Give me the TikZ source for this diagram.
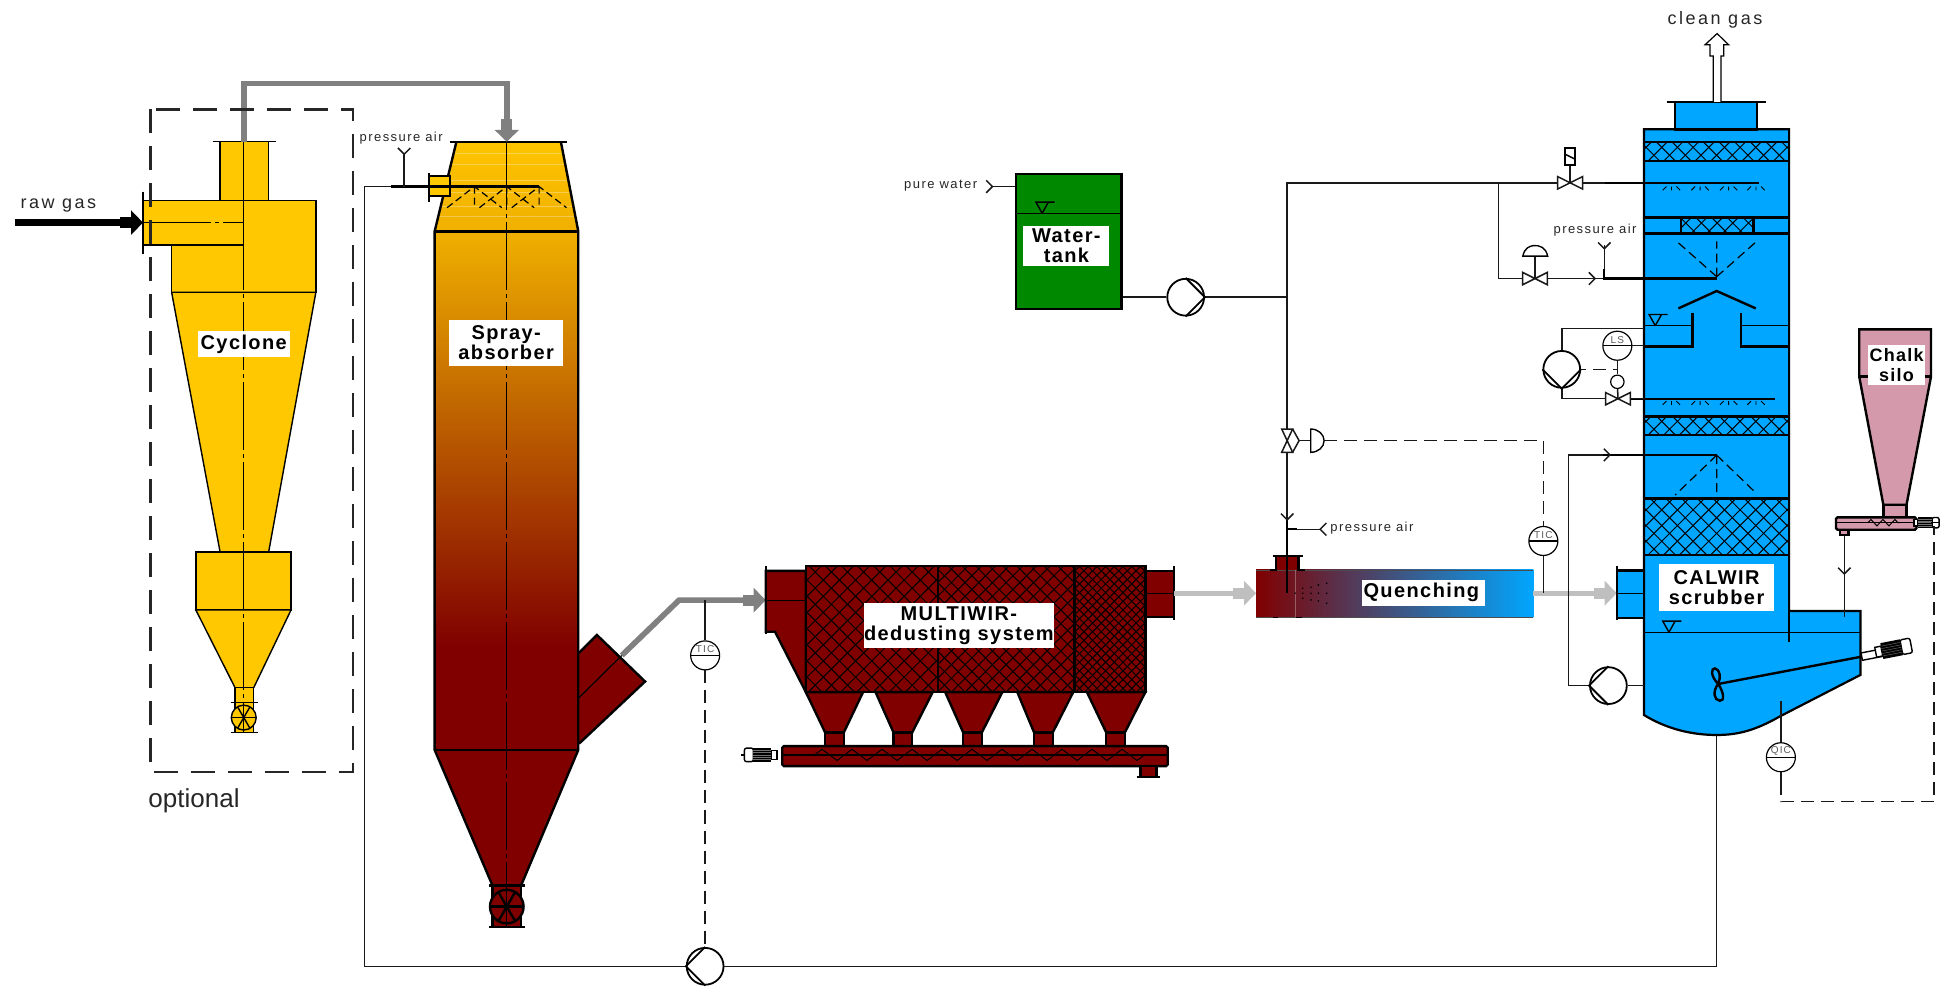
\documentclass[tikz,border=0pt]{standalone}
\usepackage{fontspec}
\setmainfont{Liberation Sans}
\newfontfamily\lblfont[LetterSpace=7]{Liberation Sans}
\newfontfamily\notefont[LetterSpace=11]{Liberation Sans}
\newfontfamily\gasfont[LetterSpace=14]{Liberation Sans}
\usetikzlibrary{arrows.meta,decorations.pathmorphing}
\definecolor{cycyellow}{HTML}{FFC800}
\definecolor{dkred}{HTML}{800000}
\definecolor{scrubblue}{HTML}{00A6FF}
\definecolor{tankgreen}{HTML}{008800}
\definecolor{silopink}{HTML}{D49AAC}
\tikzset{
	pipe/.style={line width=.75pt,black!90},
	wall/.style={line width=1.2pt,black},
	thinwall/.style={line width=.7pt,black},
	hatchline/.style={line width=.5pt,black},
	centerline/.style={line width=.6pt,black,dash pattern=on 34pt off 2pt on 2pt off 2pt},
	ctrl/.style={line width=.7pt,black!90,dash pattern=on 6.5pt off 3.5pt},
	flowtip/.style={-{Rectangle[length=5.5pt,width=5.6pt]Triangle[length=6pt,width=12pt]}},
	gasflow/.style={flowtip,line width=2.8pt,black!50},
	coolflow/.style={flowtip,line width=2.4pt,black!25},
	lbl/.style={fill=white,inner sep=0pt,align=center,font=\lblfont\bfseries\fontsize{10}{9.8}\selectfont},
	pumpnode/.style={circle,draw,line width=.9pt,fill=white,minimum size=18.4pt,inner sep=0pt},
	instr/.style={circle,draw,line width=.6pt,fill=white,minimum size=14.5pt,inner sep=0pt,
		path picture={\draw[line width=.6pt] (path picture bounding box.west) -- (path picture bounding box.east);}},
	instrtxt/.style={font=\notefont\fontsize{5}{5}\selectfont,black!65,inner sep=0pt,yshift=3pt},
	note/.style={font=\notefont\fontsize{6.5}{7}\selectfont,black!85,inner sep=0pt},
	gastxt/.style={font=\gasfont\fontsize{9}{10}\selectfont,black!85,inner sep=0pt},
}
\newcommand{\hatchbox}[5]{%
	\begin{scope}
		\clip (#1,#2) rectangle (#3,#4);
		\pgfmathsetmacro{\hatchend}{#3-#1+#4-#2}
		\foreach \k in {0,#5,...,\hatchend}{
			\draw[hatchline] (#1-#4+#2+\k,#2) -- (#1+\k,#4);
			\draw[hatchline] (#3+#4-#2-\k,#2) -- (#3-\k,#4);
		}
	\end{scope}}
\newcommand{\chev}[3]{\draw[pipe,rotate around={#3:(#1,#2)}] (#1-5,#2-5) -- (#1,#2) -- (#1-5,#2+5);}
\newcommand{\valveh}[2]{\draw[pipe,fill=white] (#1-10,#2-5) -- (#1+10,#2+5) -- (#1+10,#2-5) -- (#1-10,#2+5) -- cycle;}
\newcommand{\levelmark}[2]{\draw[thinwall] (#1,#2) -- (#1-5,#2-9) -- (#1+10,#2-9) (#1,#2) -- (#1+5,#2-9);}
\newcommand{\wheel}[4]{%
	\draw[#4] (#1,#2) circle (#3);
	\foreach \a in {0,60,120} \draw[#4] (#1,#2) ++(\a:#3) -- ++(\a+180:2*#3);}
\newcommand{\motorsym}[4]{%
	\begin{scope}[shift={(#1,#2)},rotate=#3,scale=#4]
		\draw[thinwall,fill=white,rounded corners=1pt] (8,-6) rectangle (16,6);
		\draw[thinwall,fill=white] (-13,-4) rectangle (-8,4);
		\fill (-8,-6.5) rectangle (8,6.5);
		\foreach \r in {-4,-2,0,2,4} \draw[black!55,line width=.2pt] (-8,\r) -- (8,\r);
	\end{scope}}
\newcommand{\tinyspray}[2]{\draw[line width=.45pt] (#1-7,#2+3) -- (#1-4,#2) (#1,#2) -- (#1,#2+3) (#1+4,#2) -- (#1+7,#2+3);}
\begin{document}
\begin{tikzpicture}[x=0.6218pt,y=-0.6218pt]
	\useasboundingbox (0,0) rectangle (1568,793.6);
	% cyclone
	\draw[thinwall,fill=cycyellow] (177,114) rectangle (216,161);
	\draw[thinwall,fill=cycyellow] (138,161) rectangle (254,235);
	\draw[thinwall,fill=cycyellow] (115,161) rectangle (196,197);
	\draw[thinwall,fill=cycyellow] (138,235) -- (254,235) -- (216,444) -- (177,444) -- cycle;
	\draw[thinwall,fill=cycyellow] (157.5,444) rectangle (234,490.5);
	\draw[thinwall,fill=cycyellow] (157.5,490.5) -- (234,490.5) -- (204,553) -- (189,553) -- cycle;
	\draw[thinwall,fill=cycyellow] (189,553) rectangle (204,589);
	\draw[thinwall] (171,114) -- (222,114) (115,154) -- (115,204) (185.5,565) -- (207.5,565) (185.5,589) -- (207.5,589);
	\wheel{196}{577}{10}{thinwall,fill=cycyellow}
	\draw[centerline] (196,114) -- (196,589);
	\draw[centerline] (115,179) -- (196,179);
	% spray absorber
	\shade[top color=cycyellow!95!orange,bottom color=cycyellow!88!dkred] (367,114) -- (451,114) -- (465,186) -- (349.5,186) -- cycle;
	\begin{scope}
		\clip (367,114) -- (451,114) -- (465,186) -- (349.5,186) -- cycle;
		\foreach \y in {123,132,145,155,166,174}
			\draw[white,opacity=.3,line width=.4pt] (345,\y) -- (470,\y);
	\end{scope}
	\shade[top color=cycyellow!88!dkred,bottom color=dkred] (349.5,186) rectangle (465,520);
	\fill[dkred] (349.5,519) rectangle (465,603);
	\fill[dkred] (349.5,603) -- (465,603) -- (419,712) -- (396,712) -- cycle;
	\draw[wall,fill=dkred] (396,712) rectangle (419,745.6);
	\draw[wall,fill=dkred] (465.6,525) -- (480,510.6) -- (518.7,548) -- (465.6,598);
	\draw[wall] (367,114) -- (349.5,186) -- (349.5,603) -- (396,712) (451,114) -- (465,186) -- (465,603) -- (419,712);
	\draw[wall] (349.5,186) -- (465,186) (349.5,603) -- (465,603) (362,114) -- (456,114) (393,712) -- (422,712) (393,745.6) -- (422,745.6);
	\draw[wall,fill=cycyellow] (345,141.5) rectangle (362,157.6);
	\draw[wall] (345,139) -- (345,162.5);
	\wheel{407.5}{729}{13.5}{wall,fill=dkred}
	\draw[centerline] (407.5,114) -- (407.5,745);
	\draw[centerline] (465.6,561) -- (500,527);
	\coordinate (sprayBar) at (433.5,150);
	\draw[wall] (314.5,150) -- (sprayBar);
	\foreach \x in {381.5,407.5,433.5}
		\draw[line width=.6pt,dash pattern=on 3.5pt off 2pt] (\x-22,167) -- (\x,150) -- (\x+22,167) (\x,150) -- (\x,167);
	% raw gas, gas ducts
	\coordinate (cycIn) at (115,179);
	\coordinate (cycOut) at (196,114);
	\coordinate (sprayIn) at (407.5,114);
	\coordinate (sprayOut) at (500,527);
	\coordinate (multiIn) at (615.7,482.6);
	\draw[flowtip,line width=3.4pt,black] (12,179) -- (cycIn);
	\draw[gasflow] (cycOut) -- (196,67) -- (407.5,67) -- (sprayIn);
	\draw[gasflow] (sprayOut) -- (546,482.6) -- (multiIn);
	% optional frame
	\draw[line width=1.1pt,black!85,dash pattern=on 12pt off 6.5pt] (121,88) rectangle (284,621);
	% multiwir
	\draw[wall,fill=dkred] (615.7,459) -- (648,459) -- (648,556.5) -- (623.2,508) -- (615.7,508) -- cycle;
	\draw[wall,fill=dkred] (921,459) rectangle (944,496);
	\draw[wall] (615.7,455) -- (615.7,510) (944,455) -- (944,498.7);
	\draw[centerline] (616,482.6) -- (648,482.6);
	\draw[thinwall] (921,477) -- (944,477);
	\fill[dkred] (648,455) rectangle (921,556.5);
	\hatchbox{648}{455}{754}{556.5}{13}
	\hatchbox{754}{455}{864}{556.5}{11}
	\hatchbox{864}{455}{921}{556.5}{7}
	\draw[wall] (648,455) rectangle (921,556.5) (754,455) -- (754,556.5) (864,455) -- (864,556.5);
	\foreach \a/\b/\c in {648/694/671,704/750/726,760/806/782,818/863/839,874/921/897} {
		\draw[wall,fill=dkred] (\a,556.5) -- (\b,556.5) -- (\c+7.5,589) -- (\c-7.5,589) -- cycle;
		\draw[wall,fill=dkred] (\c-7.5,589) rectangle (\c+7.5,600);
	}
	\draw[wall,fill=dkred,rounded corners=.8pt] (629,600) rectangle (939,616);
	\draw[thinwall] (629,607) -- (939,607);
	\draw[hatchline,decorate,decoration={zigzag,segment length=15pt,amplitude=2.8pt}] (655,607) -- (925,607);
	\draw[wall,fill=dkred] (917,616) rectangle (930,625);
	\draw[wall] (914,625) -- (933,625);
	\draw[thinwall] (596,607) -- (604,607);
	\motorsym{613}{607}{180}{.9}
	% water tank
	\node[draw,line width=1.3pt,fill=tankgreen,minimum width=52.6pt,minimum height=67.5pt,inner sep=0pt] (tank) at (859.3,194.3) {};
	\draw[thinwall] (tank.west |- 0,171.5) -- (tank.east |- 0,171.5);
	\levelmark{838}{171.5}
	\node[pumpnode] (pumpW) at (953.4,239) {};
	\coordinate (jctW) at (1035,239);
	\coordinate (jctT) at (1035,147);
	\coordinate (jctB) at (1205,147);
	\coordinate (waterEnd) at (798,150);
	\draw[pipe] (waterEnd) -- (waterEnd -| tank.west);
	\chev{798}{150}{0}
	\draw[pipe] (pumpW -| tank.east) -- (pumpW) -- (jctW);
	\draw[line width=.9pt] (pumpW.north) -- (pumpW.east) -- (pumpW.south);
	% quench
	\shade[left color=dkred,right color=scrubblue] (1010,458.3) rectangle (1233,496.4);
	\draw[line width=.4pt,black!70] (1010,458.3) -- (1233,458.3) (1010,496.4) -- (1233,496.4);
	\draw[line width=.3pt,white,opacity=.3] (1041.4,458.3) -- (1041.4,496.4);
	\draw[line width=.6pt] (1024,496.4) -- (1028,496.4) (1042,496.4) -- (1047,496.4);
	\fill[dkred] (1025.8,447) rectangle (1044,458.3);
	\draw[wall] (1021,458.3) -- (1025.8,458.3) -- (1025.8,447) (1049,458.3) -- (1044,458.3) -- (1044,447) (1023.4,447) -- (1047.5,447);
	\coordinate (quenchIn) at (1010,477);
	\coordinate (quenchOut) at (1233,477);
	\coordinate (calwirIn) at (1300,477);
	\coordinate (multiOut) at (944,477);
	\draw[coolflow] (multiOut) -- (quenchIn);
	\draw[coolflow] (quenchOut) -- (calwirIn);
	\draw[pipe] (jctT) -- (1035,418);
	\draw[wall] (1035,418) -- (1035,477);
	\draw[wall] (1035,425.6) -- (1043,425.6);
	\draw[pipe] (1043,425.6) -- (1061.5,425.6);
	\chev{1035}{418}{270}
	\chev{1061.5}{425.6}{180}
	\foreach \x/\y in {1041.4/477,1047.5/473,1047.5/477,1047.5/481,1054.2/472.2,1054.2/477,1054.2/482.4,1060.1/470.4,1060.1/477,1060.1/483.2,1066.8/469,1066.8/477,1066.8/485}
		\fill (\x,\y) circle (.45pt);
	\draw[pipe,fill=white] (1030.6,345) -- (1039.4,345) -- (1030.6,363.7) -- (1039.4,363.7) -- cycle;
	\draw[pipe] (1039.4,345) -- (1044.6,354.3) -- (1039.4,363.7);
	\draw[pipe] (1044.6,354.3) -- (1054,354.3);
	\draw[thinwall,fill=white] (1054,345) arc (-90:90:10.7 and 9.35) -- cycle;
	\node[instr,label={[instrtxt]center:TIC}] (ticQ) at (1241,435) {};
	\draw[pipe] (ticQ) -- (ticQ |- quenchOut);
	\draw[ctrl] (1064.7,354.3) -- (1241,354.3) -- (ticQ);
	% scrubber
	\draw[line width=1.1pt,fill=scrubblue] (1322,104) -- (1438.6,104) -- (1438.6,491.3) -- (1496,491.3) -- (1496,542.7) -- (1431.3,576)
		.. controls (1412,587) and (1398,591) .. (1380.4,591) .. controls (1360,591) and (1340,586) .. (1322,575) -- cycle;
	\draw[wall,fill=scrubblue] (1347,82) rectangle (1413,104);
	\draw[wall] (1340.6,82) -- (1420,82);
	\draw[line width=.6pt,fill=white] (1377.6,82) -- (1377.6,45) -- (1375,45) -- (1375,36) -- (1371,36) -- (1380.7,27) -- (1390,36) -- (1386,36) -- (1386,45) -- (1383.8,45) -- (1383.8,82);
	\hatchbox{1322}{114}{1438.6}{129.5}{12.6}
	\hatchbox{1351.5}{174.8}{1410}{187.9}{12.6}
	\hatchbox{1322}{335}{1438.6}{349.8}{12.6}
	\hatchbox{1322}{400.7}{1438.6}{446.2}{12.6}
	\foreach \y in {114,129.5,174.8,187.9,335,349.8,400.7,446.2}
		\draw[wall] (1322,\y) -- (1438.6,\y);
	\draw[wall] (1351.5,174.8) -- (1351.5,187.9) (1410,174.8) -- (1410,187.9);
	\draw[wall] (1438.6,491) -- (1438.6,516);
	\draw[thinwall] (1322,508.4) -- (1496,508.4);
	\levelmark{1342}{508.4}
	\levelmark{1331}{261.9}
	\draw[wall] (1349.6,248) -- (1380.4,234) -- (1411.8,248);
	\draw[wall] (1323,278.7) -- (1360.8,278.7) -- (1360.8,252) (1399.7,252) -- (1399.7,278.7) -- (1438,278.7);
	\draw[thinwall] (1323,261.9) -- (1360.8,261.9) (1399.7,261.9) -- (1438,261.9);
	\draw[line width=.6pt,dash pattern=on 4.5pt off 2.5pt] (1380.4,222.5) -- (1347,193) (1380.4,222.5) -- (1380.4,194) (1380.4,222.5) -- (1412.6,194);
	\draw[line width=.6pt,dash pattern=on 4.5pt off 2.5pt] (1380.4,366) -- (1347,398) (1380.4,366) -- (1380.4,396) (1380.4,366) -- (1412.6,397);
	\draw[wall] (1290.6,147) -- (1414,147);
	\draw[wall] (1289,224) -- (1380.4,224);
	\draw[wall] (1289,365.8) -- (1380.4,365.8);
	\draw[wall] (1311,320.6) -- (1427,320.6);
	\foreach \x in {1344,1367,1390,1412} {
		\tinyspray{\x}{150}
		\tinyspray{\x}{322.5}
	}
	% lines at the scrubber
	\coordinate (valveT) at (1262.5,147);
	\coordinate (valveB) at (1234.3,224);
	\coordinate (valveS) at (1301,320.6);
	\coordinate (scrubOut) at (1380.4,591);
	\node[pumpnode] (pumpS) at (1255.8,297) {};
	\node[pumpnode] (pumpC) at (1293.3,551.3) {};
	\node[pumpnode] (pumpR) at (567,777) {};
	\node[circle,draw,line width=.6pt,fill=white,minimum size=6.7pt,inner sep=0pt] (posS) at (1300.5,307) {};
	\draw[pipe] (jctW) -- (jctT) -- (valveT) -- (1290.6,147);
	\draw[pipe] (jctB) -- (1205,224) -- (valveB) -- (1289,224);
	\draw[pipe] (1290,224) -- (1290,197);
	\draw[wall] (1290,224) -- (1290,216);
	\chev{1290}{200}{270}
	\chev{1282.6}{224}{0}
	\draw[pipe] (valveT) -- (1262.5,132.7);
	\draw[thinwall,fill=white] (1258.5,119) rectangle (1266.5,132.7);
	\draw[thinwall] (1258.5,124) -- (1266.5,128);
	\valveh{1262.5}{147}
	\draw[pipe] (valveB) -- (1234.3,206);
	\draw[thinwall,fill=white] (1224.5,206) .. controls (1226,199) and (1230,198) .. (1233,197.5) .. controls (1238,197) and (1243,199) .. (1244.5,206) -- cycle;
	\valveh{1234.3}{224}
	\draw[pipe] (pumpS.north) |- (1322,264);
	\draw[pipe] (pumpS.south) |- (valveS) -- (1322,320.6);
	\draw[line width=.9pt] (pumpS.west) -- (pumpS.south) -- (pumpS.east);
	\node[instr,label={[instrtxt]center:LS}] (lsS) at (1300.5,278) {};
	\draw[pipe] (lsS.east) -- (1322,278);
	\draw[wall] (1322,278) -- (1329,278);
	\draw[ctrl] (lsS.south) -- (1300.5,297) -- (pumpS.east);
	\draw[pipe] (1300.5,297) -- (posS);
	\draw[pipe] (posS) -- (valveS);
	\valveh{1301}{320.6}
	\draw[pipe] (1322,551.3) -- (pumpC) -- (1261.1,551.3) -- (1261.1,365.8) -- (1289,365.8);
	\chev{1294.6}{365.8}{0}
	\draw[line width=.9pt] (pumpC.north) -- (pumpC.west) -- (pumpC.south);
	\draw[pipe] (scrubOut) -- (scrubOut |- pumpR) -- (pumpR) -- (293,777) -- (293,150) -- (314.5,150);
	\draw[line width=.9pt] (pumpR.north) -- (pumpR.west) -- (pumpR.south);
	\draw[pipe] (325,150) -- (325,124);
	\chev{325}{124}{270}
	\node[instr,label={[instrtxt]center:TIC}] (ticM) at (567,527) {};
	\draw[pipe] (567,482.6) -- (ticM);
	\draw[ctrl] (ticM) -- (pumpR);
	% inlet of the scrubber
	\draw[wall,fill=scrubblue] (1300,458.8) rectangle (1322,497);
	\draw[wall] (1300,455) -- (1300,498.5);
	\draw[thinwall] (1300,477) -- (1322,477);
	% agitator
	\draw[wall] (1381.5,550) -- (1497,528);
	\draw[wall] (1381.5,550) .. controls (1375,543) and (1376,537) .. (1379,537.5) .. controls (1383,538) and (1384,545) .. (1381.5,550)
		.. controls (1377,556) and (1378,563) .. (1383,563.5) .. controls (1387,564) and (1386,556) .. (1381.5,550);
	\draw[thinwall,fill=white,rotate around={11:(1497,528)}] (1497,525) rectangle (1513,531);
	\motorsym{1521}{522}{11}{1}
	% chalk silo
	\coordinate (siloOut) at (1483,430);
	\draw[wall,fill=silopink] (1495,264.8) -- (1552.7,264.8) -- (1552.7,302.9) -- (1533,406) -- (1514.4,406) -- (1495,302.9) -- cycle;
	\draw[wall] (1495,302.9) -- (1552.7,302.9);
	\draw[wall,fill=silopink] (1514.4,406) rectangle (1533,416);
	\draw[wall,fill=silopink,rounded corners=.8pt] (1476.3,416) rectangle (1541,426);
	\draw[wall,fill=silopink] (1479.5,426) rectangle (1486.5,430);
	\draw[thinwall] (1476.3,420.3) -- (1541,420.3);
	\draw[hatchline,decorate,decoration={zigzag,segment length=6pt,amplitude=1.6pt}] (1502,420.3) -- (1528,420.3);
	\motorsym{1548}{420.3}{0}{.7}
	\draw[thinwall] (1553,420.3) -- (1560,420.3);
	\draw[pipe] (siloOut) -- (1483,496.4);
	\chev{1483}{461.5}{270}
	% quality control
	\node[instr,label={[instrtxt]center:QIC}] (qicS) at (1432,608.9) {};
	\draw[pipe] (1432,564) -- (qicS);
	\draw[pipe] (qicS) -- (1432,628.5);
	\draw[ctrl] (1432,628.5) -- (1432,644.6) -- (1555.2,644.6) -- (1555.2,423);
	% labels
	\node[lbl,minimum width=46pt,minimum height=13pt] (cycLabel) at (196,276.5) {Cyclone};
	\node[lbl,minimum width=57pt,minimum height=23pt] (sprayLabel) at (407,275.5) {Spray-\\absorber};
	\node[lbl,minimum width=94.5pt,minimum height=22.4pt] (multiLabel) at (771,503) {MULTIWIR-\\dedusting system};
	\node[lbl,minimum width=43pt,minimum height=20pt] (tankLabel) at (857.5,197.7) {Water-\\tank};
	\node[lbl,minimum width=61.5pt,minimum height=13pt] (quenchLabel) at (1144.5,476.6) {\kern-2pt Quenching};
	\node[lbl,minimum width=57.5pt,minimum height=23.3pt] (calwirLabel) at (1380.3,472.5) {CALWIR\\scrubber};
	\node[lbl,minimum width=28.6pt,minimum height=20pt,font=\lblfont\bfseries\fontsize{9}{9.8}\selectfont] (siloLabel) at (1525,293.5) {Chalk\\silo};
	\node[gastxt] (rawText) at (47,165) {raw gas};
	\node[gastxt] (cleanText) at (1379,16) {clean gas};
	\node[note] (airA) at (322.6,111) {pressure air};
	\node[note] (airB) at (1282.6,185) {pressure air};
	\node[note,anchor=west] (airC) at (1069.5,424.8) {pressure air};
	\node[note,anchor=east] (waterText) at (786,149) {pure water};
	\node[inner sep=0pt,font=\fontsize{13}{14}\selectfont,black!85] (optText) at (156,644) {optional};
\end{tikzpicture}
\end{document}
